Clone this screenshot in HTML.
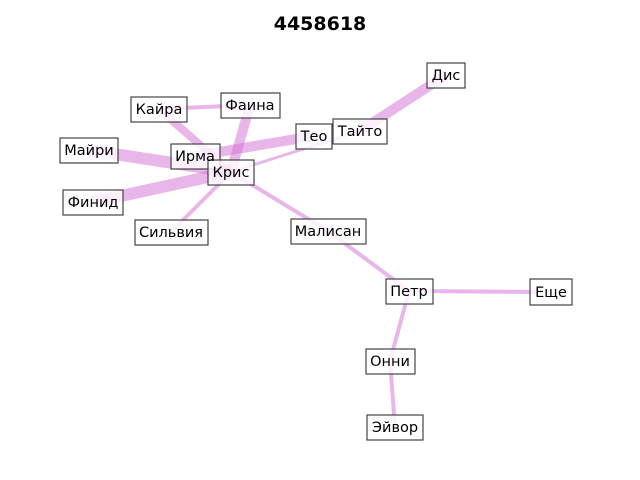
<!DOCTYPE html>
<html><head><meta charset="utf-8"><style>body{margin:0;background:#fff}svg{display:block}</style></head><body>
<svg width="640" height="480" xmlns="http://www.w3.org/2000/svg" font-family="DejaVu Sans, Liberation Sans, sans-serif">
<rect width="640" height="480" fill="#fff"/>
<text x="320" y="30" text-anchor="middle" font-size="19" font-weight="bold">4458618</text>
<g stroke="#d36ed3" stroke-opacity="0.5" stroke-linecap="butt" fill="none">
<line x1="159" y1="109" x2="250" y2="105" stroke-width="4"/>
<line x1="159" y1="109" x2="231" y2="172" stroke-width="8"/>
<line x1="250" y1="105" x2="231" y2="172" stroke-width="10"/>
<line x1="89" y1="150" x2="231" y2="172" stroke-width="12"/>
<line x1="195" y1="156" x2="314" y2="136" stroke-width="10"/>
<line x1="93" y1="202" x2="231" y2="172" stroke-width="12"/>
<line x1="171" y1="232" x2="231" y2="172" stroke-width="4"/>
<line x1="231" y1="172" x2="360" y2="131" stroke-width="3"/>
<line x1="360" y1="131" x2="446" y2="75" stroke-width="10"/>
<line x1="231" y1="172" x2="328" y2="231" stroke-width="4"/>
<line x1="328" y1="231" x2="409" y2="291" stroke-width="4"/>
<line x1="409" y1="291" x2="550" y2="292" stroke-width="4"/>
<line x1="409" y1="291" x2="390" y2="361" stroke-width="4"/>
<line x1="390" y1="361" x2="395" y2="427" stroke-width="4"/>
</g>
<g fill="#fff" fill-opacity="0.8" stroke="#444" stroke-width="1.2">
<rect x="131" y="97" width="56" height="25"/>
<rect x="221" y="93" width="59" height="25"/>
<rect x="60" y="138" width="58" height="25"/>
<rect x="171" y="144" width="49" height="25"/>
<rect x="208" y="160" width="46" height="25"/>
<rect x="63" y="190" width="60" height="25"/>
<rect x="135" y="220" width="73" height="25"/>
<rect x="296" y="124" width="36" height="25"/>
<rect x="333" y="119" width="54" height="25"/>
<rect x="427" y="63" width="38" height="25"/>
<rect x="291" y="219" width="75" height="25"/>
<rect x="386" y="279" width="47" height="25"/>
<rect x="530" y="279" width="42" height="26"/>
<rect x="366" y="349" width="49" height="25"/>
<rect x="367" y="415" width="56" height="25"/>
</g>
<g font-size="14.5" fill="#000" text-anchor="middle">
<text x="159" y="114">Кайра</text>
<text x="250" y="110">Фаина</text>
<text x="89" y="155">Майри</text>
<text x="195" y="161">Ирма</text>
<text x="231" y="177">Крис</text>
<text x="93" y="207">Финид</text>
<text x="171" y="237">Сильвия</text>
<text x="314" y="141">Тео</text>
<text x="360" y="136">Тайто</text>
<text x="446" y="80">Дис</text>
<text x="328" y="236">Малисан</text>
<text x="409" y="296">Петр</text>
<text x="551" y="297">Еще</text>
<text x="390" y="366">Онни</text>
<text x="395" y="432">Эйвор</text>
</g>
</svg>
</body></html>
